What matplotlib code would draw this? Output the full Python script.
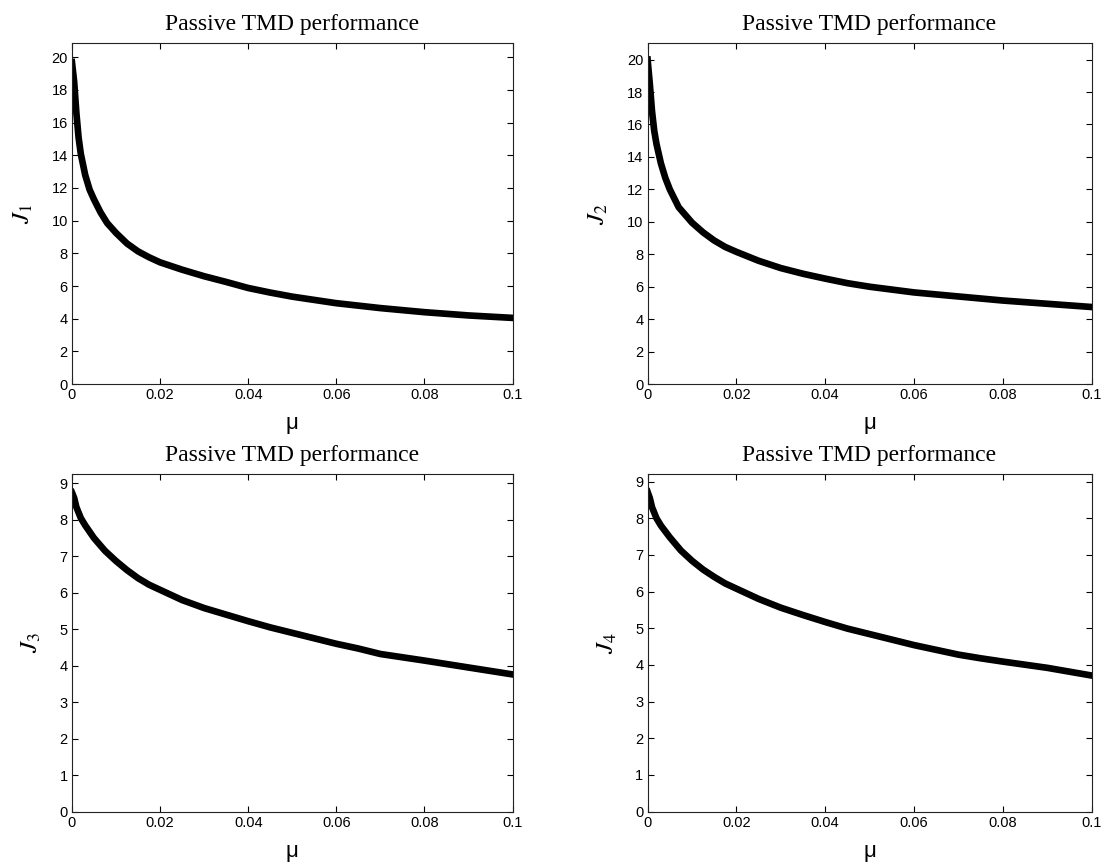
import matplotlib
matplotlib.use("Agg")
import matplotlib.pyplot as plt

plt.rcParams["mathtext.fontset"] = "stix"

# mass ratio samples and the four performance indices of the passive TMD
MU_1 = [0, 0.0005, 0.001, 0.0015, 0.002, 0.003, 0.004, 0.005, 0.0065, 0.008, 0.01, 0.0125,
        0.015, 0.0175, 0.02, 0.025, 0.03, 0.035, 0.04, 0.045, 0.05, 0.06, 0.07, 0.08, 0.09, 0.1]
J_1 = [19.7, 18.5, 16.6, 15.1, 14.1, 12.8, 11.9, 11.3, 10.5, 9.85, 9.25, 8.6,
       8.12, 7.76, 7.45, 7.0, 6.6, 6.25, 5.88, 5.6, 5.35, 4.95, 4.65, 4.4, 4.2, 4.05]

MU_2 = [0, 0.0005, 0.001, 0.0015, 0.002, 0.003, 0.004, 0.005, 0.007, 0.01, 0.0125,
        0.015, 0.0175, 0.02, 0.025, 0.03, 0.035, 0.04, 0.045, 0.05, 0.06, 0.07, 0.08, 0.09, 0.1]
J_2 = [20.0, 18.5, 16.8, 15.6, 14.8, 13.6, 12.7, 12.0, 10.9, 9.95, 9.35,
       8.85, 8.45, 8.15, 7.6, 7.15, 6.8, 6.5, 6.22, 6.0, 5.65, 5.4, 5.15, 4.95, 4.75]

MU_3 = [0, 0.0005, 0.001, 0.002, 0.003, 0.005, 0.0075, 0.01, 0.0125, 0.015, 0.0175, 0.02,
        0.025, 0.03, 0.035, 0.04, 0.045, 0.05, 0.055, 0.06, 0.065, 0.07, 0.075, 0.08, 0.09, 0.1]
J_3 = [8.75, 8.6, 8.35, 8.05, 7.85, 7.5, 7.15, 6.87, 6.62, 6.4, 6.22, 6.08,
       5.8, 5.58, 5.4, 5.22, 5.05, 4.9, 4.75, 4.6, 4.47, 4.32, 4.23, 4.14, 3.95, 3.76]

MU_4 = [0, 0.0005, 0.001, 0.002, 0.003, 0.005, 0.0075, 0.01, 0.0125, 0.015, 0.0175, 0.02,
        0.025, 0.03, 0.035, 0.04, 0.045, 0.05, 0.055, 0.06, 0.065, 0.07, 0.075, 0.08, 0.09, 0.1]
J_4 = [8.72, 8.55, 8.3, 8.0, 7.8, 7.48, 7.12, 6.84, 6.6, 6.4, 6.22, 6.08,
       5.8, 5.56, 5.36, 5.17, 4.99, 4.84, 4.69, 4.54, 4.41, 4.28, 4.18, 4.09, 3.92, 3.71]

X_TICKS = [0, 0.02, 0.04, 0.06, 0.08, 0.1]
X_TICK_LABELS = ["0", "0.02", "0.04", "0.06", "0.08", "0.1"]
TITLE = "Passive TMD performance"

panels = [
    (MU_1, J_1, r"$J_1$", 20.85, 2),
    (MU_2, J_2, r"$J_2$", 21.0, 2),
    (MU_3, J_3, r"$J_3$", 9.25, 1),
    (MU_4, J_4, r"$J_4$", 9.2, 1),
]

# axes rectangles in figure fractions
boxes = [
    [0.065, 0.557, 0.398, 0.393],
    [0.585, 0.557, 0.401, 0.393],
    [0.065, 0.064, 0.398, 0.389],
    [0.585, 0.064, 0.401, 0.389],
]

fig = plt.figure(figsize=(11.07, 8.67), dpi=100)

for (mu, j, ylab, ytop, ystep), box in zip(panels, boxes):
    ax = fig.add_axes(box)
    ax.plot(mu, j, color="black", linewidth=4.8, solid_joinstyle="round")
    ax.set_xlim(0, 0.1)
    ax.set_ylim(0, ytop)
    ax.set_xticks(X_TICKS)
    ax.set_xticklabels(X_TICK_LABELS)
    ax.set_yticks(list(range(0, int(ytop) + 1, ystep)))
    ax.tick_params(direction="in", length=4, width=0.8, top=True, right=True,
                   labelsize=10.5, pad=3)
    for lbl in ax.get_xticklabels() + ax.get_yticklabels():
        lbl.set_fontfamily("Liberation Sans")
    for sp in ax.spines.values():
        sp.set_linewidth(0.8)
        sp.set_color("#222222")
    ax.set_title(TITLE, fontfamily="Liberation Serif", fontsize=17, pad=9.5)
    ax.set_xlabel("\u03bc", fontfamily="Liberation Sans", fontsize=16, labelpad=8)
    ax.set_ylabel(ylab, fontsize=18, labelpad=12)

fig.savefig("out.png", dpi=100)
